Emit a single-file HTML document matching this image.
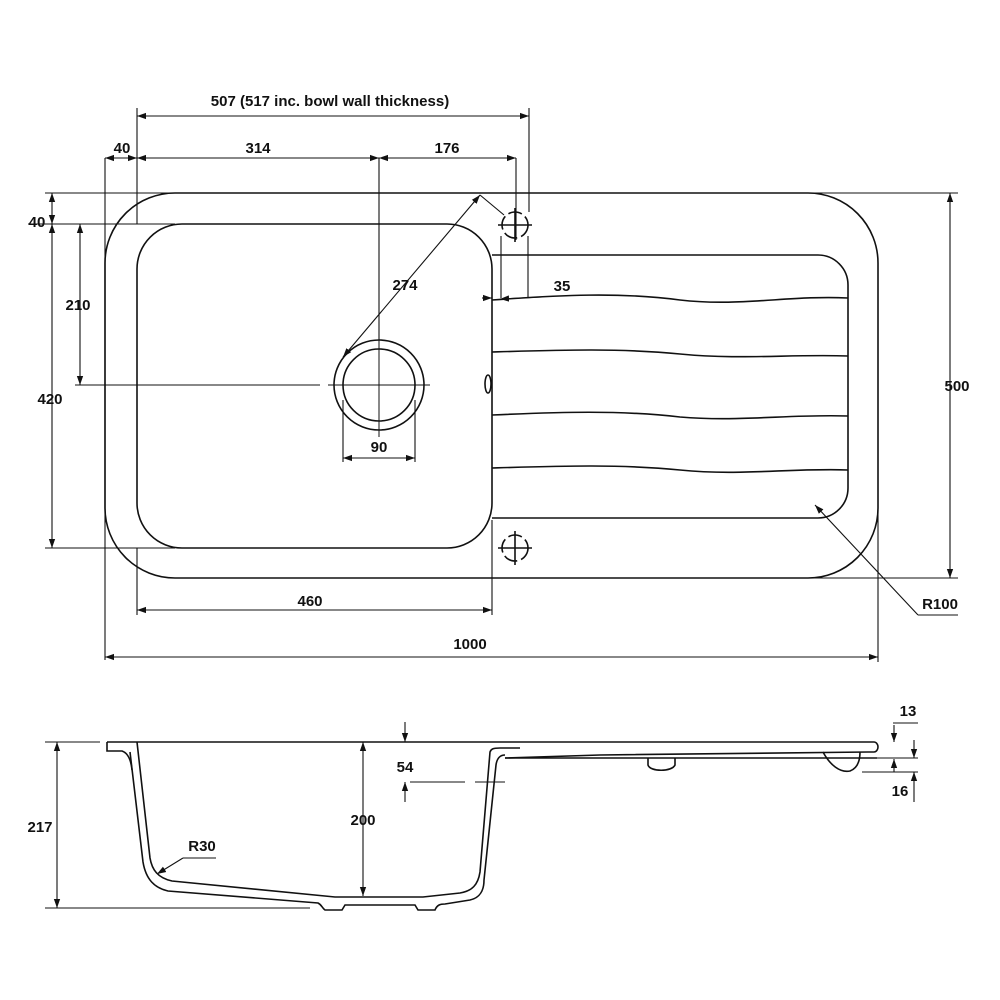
<!DOCTYPE html>
<html><head><meta charset="utf-8"><style>
html,body{margin:0;padding:0;background:#fff;}
svg{display:block;}
text{font-family:"Liberation Sans",sans-serif;font-weight:bold;font-size:15px;fill:#111;text-anchor:middle;}
</style></head><body>
<svg width="1000" height="1000" viewBox="0 0 1000 1000" xmlns="http://www.w3.org/2000/svg">
<defs>
<marker id="a" viewBox="0 0 10 10" refX="10" refY="5" markerWidth="9" markerHeight="9" orient="auto-start-reverse" markerUnits="userSpaceOnUse"><path d="M0,1.5 L10,5 L0,8.5 z" fill="#111"/></marker>
</defs>
<g fill="none" stroke="#111" stroke-width="1.6">
<path d="M175,193 H808 A70,70 0 0 1 878,263 V508 A70,70 0 0 1 808,578 H175 A70,70 0 0 1 105,508 V263 A70,70 0 0 1 175,193 Z"/>
<path d="M182,224 H447 A45,45 0 0 1 492,269 V503 A45,45 0 0 1 447,548 H182 A45,45 0 0 1 137,503 V269 A45,45 0 0 1 182,224 Z"/>
<path d="M492,255 H818 A30,30 0 0 1 848,285 V488 A30,30 0 0 1 818,518 H492"/>
<path d="M492,300 C560,295 620,292 680,300 C740,307 790,295 848,298"/>
<path d="M492,352 C560,350 620,348 680,354 C740,360 790,354 848,356"/>
<path d="M492,415 C560,412 620,410 680,417 C740,422 790,414 848,416"/>
<path d="M492,468 C560,466 620,464 680,470 C740,476 790,468 848,470"/>
<ellipse cx="488" cy="384" rx="3" ry="9"/>
<circle cx="379" cy="385" r="45"/>
<circle cx="379" cy="385" r="36"/>
<line x1="328" y1="385" x2="430" y2="385" stroke-width="1"/>
<line x1="379" y1="333" x2="379" y2="437" stroke-width="1"/>
<circle cx="515" cy="225" r="13" stroke-dasharray="14,4"/><line x1="498" y1="225" x2="532" y2="225"/><line x1="515" y1="208" x2="515" y2="242"/>
<circle cx="515" cy="548" r="13" stroke-dasharray="14,4"/><line x1="498" y1="548" x2="532" y2="548"/><line x1="515" y1="531" x2="515" y2="565"/>
</g>
<g fill="none" stroke="#111" stroke-width="1.1">
<line x1="105" y1="158" x2="105" y2="660"/>
<line x1="137" y1="108" x2="137" y2="224"/>
<line x1="137" y1="548" x2="137" y2="615"/>
<line x1="379" y1="158" x2="379" y2="340"/>
<line x1="516" y1="158" x2="516" y2="240"/>
<line x1="529" y1="108" x2="529" y2="212"/>
<line x1="501" y1="236" x2="501" y2="298"/>
<line x1="528" y1="236" x2="528" y2="298"/>
<line x1="492" y1="520" x2="492" y2="615"/>
<line x1="878" y1="510" x2="878" y2="662"/>
<line x1="45" y1="193" x2="958" y2="193"/>
<line x1="28" y1="224" x2="175" y2="224"/>
<line x1="75" y1="385" x2="320" y2="385"/>
<line x1="45" y1="548" x2="175" y2="548"/>
<line x1="800" y1="578" x2="958" y2="578"/>
<line x1="343" y1="400" x2="343" y2="462"/>
<line x1="415" y1="400" x2="415" y2="462"/>
<line x1="137" y1="116" x2="529" y2="116" marker-start="url(#a)" marker-end="url(#a)"/>
<line x1="105" y1="158" x2="137" y2="158" marker-start="url(#a)" marker-end="url(#a)"/>
<line x1="137" y1="158" x2="379" y2="158" marker-start="url(#a)" marker-end="url(#a)"/>
<line x1="379" y1="158" x2="516" y2="158" marker-start="url(#a)" marker-end="url(#a)"/>
<line x1="52" y1="193" x2="52" y2="224" marker-start="url(#a)" marker-end="url(#a)"/>
<line x1="52" y1="224" x2="52" y2="548" marker-start="url(#a)" marker-end="url(#a)"/>
<line x1="80" y1="224" x2="80" y2="385" marker-start="url(#a)" marker-end="url(#a)"/>
<line x1="950" y1="193" x2="950" y2="578" marker-start="url(#a)" marker-end="url(#a)"/>
<line x1="137" y1="610" x2="492" y2="610" marker-start="url(#a)" marker-end="url(#a)"/>
<line x1="105" y1="657" x2="878" y2="657" marker-start="url(#a)" marker-end="url(#a)"/>
<line x1="343" y1="458" x2="415" y2="458" marker-start="url(#a)" marker-end="url(#a)"/>
<line x1="480" y1="195" x2="343" y2="357" marker-start="url(#a)" marker-end="url(#a)"/>
<line x1="480" y1="195" x2="504" y2="215"/>
<line x1="482" y1="298" x2="492" y2="298" marker-end="url(#a)"/>
<line x1="542" y1="297" x2="500" y2="299" marker-end="url(#a)"/>
<line x1="958" y1="615" x2="918" y2="615"/>
<line x1="918" y1="615" x2="815" y2="505" marker-end="url(#a)"/>
</g>
<text x="330" y="106">507 (517 inc. bowl wall thickness)</text>
<text x="122" y="153">40</text>
<text x="258" y="153">314</text>
<text x="447" y="153">176</text>
<text x="37" y="227">40</text>
<text x="78" y="310">210</text>
<text x="50" y="404">420</text>
<text x="957" y="391">500</text>
<text x="405" y="290">274</text>
<text x="562" y="291">35</text>
<text x="379" y="452">90</text>
<text x="310" y="606">460</text>
<text x="470" y="649">1000</text>
<text x="940" y="609">R100</text>

<!-- side view -->
<g fill="none" stroke="#111" stroke-width="1.6">
<line x1="107" y1="742" x2="874" y2="742"/>
<path d="M874,742 A4,5 0 0 1 874,752 H868 L600,755 L505,758"/>
<path d="M107,742 V751 H122 C128,753 131,760 132,770"/>
<path d="M137,742 L150,858 C152,870 158,878 172,881 L335,897 H423 L460,893 C472,891 478,885 480,872 L490,752 C491,749 493,748 500,748 H520"/>
<path d="M130,752 L143,862 C146,880 155,888 168,891 L318,903 C322,905 322,908 325,910 L342,910 L345,905 H415 L418,910 L435,910 C437,905 440,904 445,904 L470,900 C480,898 484,890 484,880 L496,765 C497,758 500,755 505,755"/>
<line x1="505" y1="758" x2="877" y2="758"/>
<path d="M648,758 V765 C650,772 672,772 675,765 V758"/>
<path d="M823,752 C830,765 840,773 850,771 C858,768 860,760 860,752"/>
</g>
<g fill="none" stroke="#111" stroke-width="1.1">
<line x1="45" y1="742" x2="100" y2="742"/>
<line x1="45" y1="908" x2="310" y2="908"/>
<line x1="57" y1="742" x2="57" y2="908" marker-start="url(#a)" marker-end="url(#a)"/>
<line x1="363" y1="742" x2="363" y2="896" marker-start="url(#a)" marker-end="url(#a)"/>
<line x1="405" y1="722" x2="405" y2="742" marker-end="url(#a)"/>
<line x1="405" y1="802" x2="405" y2="782" marker-end="url(#a)"/>
<line x1="410" y1="782" x2="465" y2="782"/>
<line x1="475" y1="782" x2="505" y2="782"/>
<line x1="157" y1="874" x2="183" y2="858" marker-start="url(#a)"/>
<line x1="183" y1="858" x2="216" y2="858"/>
<line x1="893" y1="723" x2="918" y2="723"/>
<line x1="862" y1="758" x2="918" y2="758"/>
<line x1="862" y1="772" x2="918" y2="772"/>
<line x1="894" y1="725" x2="894" y2="742" marker-end="url(#a)"/>
<line x1="894" y1="772" x2="894" y2="759" marker-end="url(#a)"/>
<line x1="914" y1="740" x2="914" y2="758" marker-end="url(#a)"/>
<line x1="914" y1="802" x2="914" y2="772" marker-end="url(#a)"/>
</g>
<text x="40" y="832">217</text>
<text x="363" y="825">200</text>
<text x="405" y="772">54</text>
<text x="202" y="851">R30</text>
<text x="908" y="716">13</text>
<text x="900" y="796">16</text>
</svg>
</body></html>
